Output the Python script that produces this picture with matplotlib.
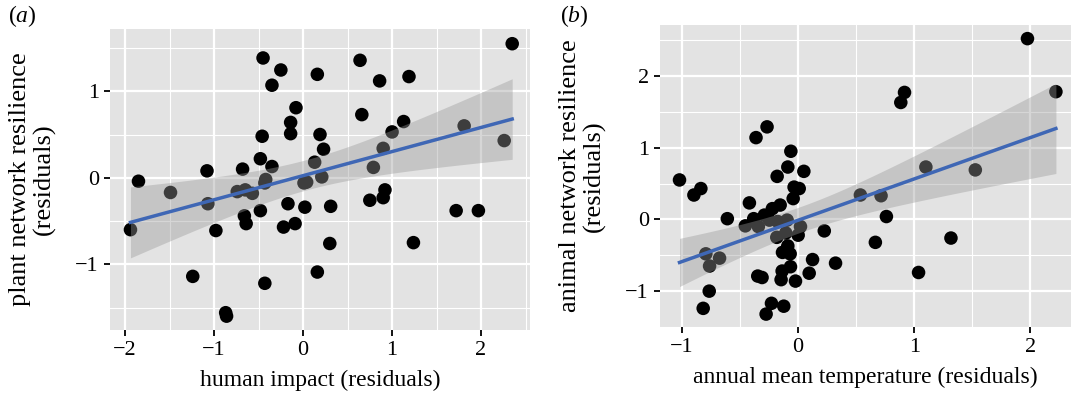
import numpy as np
import matplotlib
matplotlib.use("Agg")
import matplotlib.pyplot as plt
from matplotlib.ticker import MultipleLocator

# panel (a): plant network resilience vs human impact (residuals)
human_impact = [2.35, -0.45, -0.25, -0.35, 0.16, 0.64, 0.86, 1.19, -0.08, -0.14,
                -0.14, -0.46, 0.19, 0.66, 1.13, 1.00, 1.81, 2.26, 0.23, 0.90,
                -0.48, -0.35, -0.68, -1.08, 0.13, 0.79, -1.85, -0.42, -0.43, 0.01,
                0.04, 0.21, -1.49, -0.74, -0.65, -0.57, 0.92, 0.90, 0.75, -1.07,
                -0.17, 0.02, 0.31, -0.48, -0.66, -0.64, 1.72, 1.97, -1.94, -0.98,
                -0.22, -0.09, 0.30, 1.24, 0.16, -1.24, -0.43, -0.87, -0.86]
plant_res = [1.55, 1.385, 1.246, 1.07, 1.196, 1.358, 1.12, 1.17, 0.81, 0.64,
             0.51, 0.48, 0.50, 0.73, 0.65, 0.53, 0.60, 0.43, 0.33, 0.34,
             0.22, 0.13, 0.10, 0.08, 0.18, 0.12, -0.04, -0.02, -0.06, -0.06,
             -0.05, 0.01, -0.17, -0.16, -0.14, -0.18, -0.14, -0.23, -0.26, -0.30,
             -0.30, -0.34, -0.33, -0.38, -0.44, -0.53, -0.38, -0.38, -0.60, -0.61,
             -0.57, -0.53, -0.76, -0.75, -1.09, -1.14, -1.22, -1.56, -1.60]

# panel (b): animal network resilience vs annual mean temperature (residuals)
temperature = [1.975, 2.22, 0.916, 0.884, -0.268, -0.363, -0.063, -0.089, 0.049, -0.181,
               -1.022, -0.838, -0.898, -0.035, 0.009, -0.043, 1.10, 1.526, 0.536, 0.714,
               0.760, -0.420, -0.155, -0.222, -0.291, -0.383, -0.610, -0.248, -0.176, -0.095,
               -0.455, -0.343, 0.020, -0.107, 0.0, 0.225, -0.184, 0.665, 1.316, -0.089,
               -0.095, -0.135, -0.069, -0.795, -0.677, -0.763, 0.124, 0.322, -0.066, -0.138,
               0.095, -0.348, -0.311, -0.147, -0.023, 1.037, -0.766, -0.818, -0.230, -0.124,
               -0.276]
animal_res = [2.52, 1.78, 1.77, 1.63, 1.29, 1.14, 0.95, 0.73, 0.67, 0.60,
              0.55, 0.43, 0.34, 0.45, 0.43, 0.29, 0.73, 0.69, 0.34, 0.33,
              0.04, 0.23, 0.20, 0.15, 0.06, 0.01, 0.01, -0.01, -0.03, -0.01,
              -0.09, -0.10, -0.10, -0.19, -0.22, -0.16, -0.25, -0.32, -0.26, -0.37,
              -0.41, -0.46, -0.48, -0.48, -0.54, -0.65, -0.56, -0.61, -0.66, -0.72,
              -0.75, -0.79, -0.81, -0.84, -0.86, -0.74, -1.00, -1.24, -1.17, -1.21,
              -1.32]

plt.rcParams["font.family"] = ["Liberation Serif", "DejaVu Serif"]
plt.rcParams["mathtext.fontset"] = "custom"
plt.rcParams["mathtext.it"] = "Liberation Serif:italic"
plt.rcParams["mathtext.rm"] = "Liberation Serif"

BG = "#E3E3E3"
LINE = "#3F67B5"


def draw_panel(ax, x, y, xlim, ylim, xlabel, ylabel):
    x = np.asarray(x)
    y = np.asarray(y)
    n = len(x)
    b, a = np.polyfit(x, y, 1)
    resid = y - (a + b * x)
    s = np.sqrt(np.sum(resid ** 2) / (n - 2))
    xs = np.linspace(x.min(), x.max(), 100)
    fit = a + b * xs
    se = s * np.sqrt(1 / n + (xs - x.mean()) ** 2 / np.sum((x - x.mean()) ** 2))
    t = 2.0

    ax.set_facecolor(BG)
    ax.scatter(x, y, s=95, color="black", edgecolors="none", zorder=3)
    ax.fill_between(xs, fit - t * se, fit + t * se, color="#999999", alpha=0.4,
                    linewidth=0, zorder=4)
    ax.plot(xs, fit, color=LINE, lw=2.5, zorder=5)

    ax.set_xlim(xlim)
    ax.set_ylim(ylim)
    ax.xaxis.set_major_locator(MultipleLocator(1))
    ax.yaxis.set_major_locator(MultipleLocator(1))
    ax.xaxis.set_minor_locator(MultipleLocator(0.5))
    ax.yaxis.set_minor_locator(MultipleLocator(0.5))
    ax.grid(which="major", color="white", lw=1.6, zorder=0)
    ax.grid(which="minor", color="white", lw=0.8, zorder=0)
    ax.set_axisbelow(True)
    for sp in ax.spines.values():
        sp.set_visible(False)
    ax.tick_params(which="major", length=4, width=1.3, color="black",
                   labelsize=16, pad=4)
    ax.tick_params(which="minor", length=0)
    ax.set_xlabel(xlabel, fontsize=17, labelpad=7)
    ax.set_ylabel(ylabel, fontsize=19, labelpad=14, linespacing=1.12,
                  multialignment="center")


fig = plt.figure(figsize=(10.71, 3.96), dpi=100)
ax1 = fig.add_axes([110 / 1071, 1 - 330 / 396, 420 / 1071, 301 / 396])
ax2 = fig.add_axes([660 / 1071, 1 - 327 / 396, 411 / 1071, 302 / 396])

draw_panel(ax1, human_impact, plant_res, (-2.17, 2.55), (-1.76, 1.72),
           "human impact (residuals)", "plant network resilience\n(residuals)")
draw_panel(ax2, temperature, animal_res, (-1.19, 2.35), (-1.50, 2.71),
           "annual mean temperature (residuals)", "animal network resilience\n(residuals)")

fig.text(8 / 1071, 1 - 16 / 396, r"($\mathit{a}$)", fontsize=17, va="center")
fig.text(560 / 1071, 1 - 16 / 396, r"($\mathit{b}$)", fontsize=17, va="center")

fig.savefig("out.png", dpi=100)
